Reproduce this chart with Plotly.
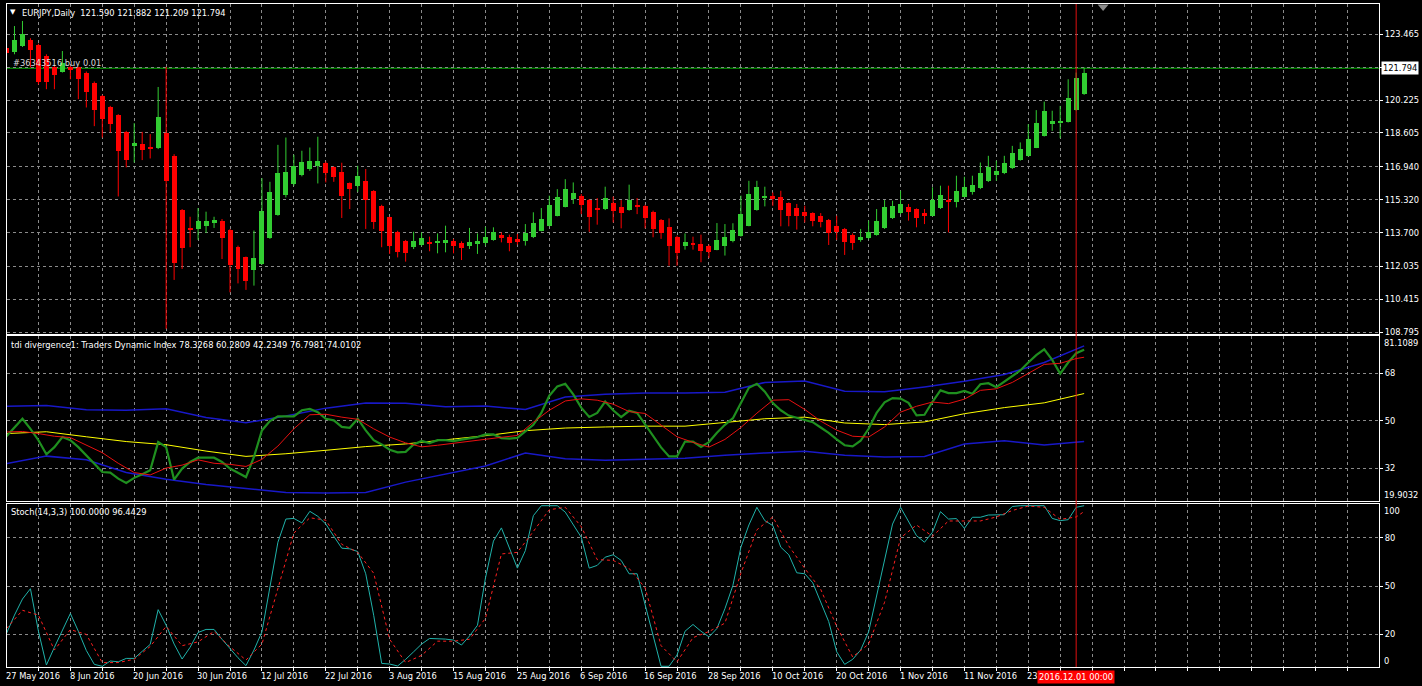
import plotly.graph_objects as go
from plotly.subplots import make_subplots

# ---------------- data ----------------
date_label_bars = [0, 8, 16, 24, 32, 40, 48, 56, 64, 72, 80, 88, 96, 104, 112, 120, 128]
date_labels = ["27 May 2016", "8 Jun 2016", "20 Jun 2016", "30 Jun 2016", "12 Jul 2016",
               "22 Jul 2016", "3 Aug 2016", "15 Aug 2016", "25 Aug 2016", "6 Sep 2016",
               "16 Sep 2016", "28 Sep 2016", "10 Oct 2016", "20 Oct 2016", "1 Nov 2016",
               "11 Nov 2016", "23"]
cursor_bar = 134
cursor_label = "2016.12.01 00:00"

open_ = [122.78, 122.61, 122.89, 123.19, 122.92, 122.40, 121.83, 121.63, 121.87, 121.83,
         121.58, 121.09, 120.43, 119.89, 119.50, 118.66, 117.94, 118.06, 117.92, 117.86,
         118.60, 117.48, 114.83, 113.91, 113.86, 114.04, 114.16, 114.25, 113.84, 113.01,
         112.48, 111.86, 112.16, 113.42, 114.57, 115.55, 116.07, 116.52, 116.81, 116.99,
         117.15, 116.91, 116.70, 116.12, 115.97, 116.22, 115.76, 115.02, 114.45, 113.74,
         113.30, 112.98, 113.11, 113.25, 113.17, 113.20, 113.30, 113.17, 113.04, 113.14,
         113.17, 113.34, 113.58, 113.50, 113.40, 113.30, 113.47, 113.79, 114.04, 114.53,
         114.97, 115.37, 115.52, 115.30, 114.89, 114.84, 115.14, 114.97, 114.81, 115.07,
         115.02, 114.73, 114.34, 113.99, 113.50, 113.06, 113.17, 113.14, 113.02, 112.86,
         113.06, 113.27, 113.55, 114.04, 114.83, 115.39, 115.48, 115.44, 115.16, 114.89,
         114.73, 114.65, 114.50, 114.34, 114.04, 113.88, 113.60, 113.35, 113.42, 113.58,
         113.91, 114.42, 114.65, 114.94, 114.86, 114.65, 114.53, 114.89, 115.29, 115.19,
         115.47, 115.68, 115.88, 116.22, 116.55, 116.63, 116.86, 117.27, 117.48, 117.89,
         118.47, 119.07, 119.12, 119.15, 119.74, 120.51]
high = [122.90, 123.87, 124.12, 123.27, 123.00, 122.48, 121.91, 122.64, 121.91, 121.86,
        121.63, 121.14, 120.48, 119.94, 119.53, 118.71, 119.09, 118.66, 118.55, 120.87,
        121.86, 117.56, 114.86, 114.48, 114.91, 114.73, 114.48, 114.37, 113.88, 113.06,
        112.52, 113.80, 116.38, 116.20, 118.02, 118.38, 117.53, 117.73, 117.89, 118.42,
        117.20, 116.96, 117.14, 116.17, 116.99, 116.83, 115.79, 115.07, 114.48, 113.79,
        113.34, 113.74, 113.71, 113.50, 113.66, 114.04, 113.39, 113.27, 113.93, 113.66,
        113.99, 113.96, 113.71, 113.60, 113.63, 114.12, 114.70, 114.91, 115.52, 115.84,
        116.33, 116.17, 115.60, 115.35, 115.40, 115.96, 115.47, 115.30, 116.06, 115.40,
        115.07, 114.78, 114.37, 114.40, 113.55, 113.66, 113.50, 113.60, 113.11, 114.17,
        114.12, 114.16, 115.52, 116.25, 116.25, 115.96, 115.68, 115.76, 115.19, 115.11,
        115.02, 114.70, 114.66, 114.37, 114.53, 113.93, 113.66, 113.88, 114.29, 114.86,
        115.30, 115.27, 115.76, 115.11, 114.89, 114.86, 115.93, 116.01, 116.01, 116.50,
        116.45, 116.50, 117.15, 117.48, 117.24, 117.48, 117.97, 118.14, 119.04, 119.73,
        120.15, 119.70, 119.94, 121.25, 121.58, 121.83]
low = [122.40, 122.48, 122.84, 121.83, 121.00, 120.76, 120.76, 121.58, 121.25, 120.27,
       119.86, 118.94, 118.38, 118.63, 115.48, 116.91, 117.15, 117.27, 117.35, 117.81,
       108.96, 111.37, 111.91, 112.98, 113.34, 113.68, 113.93, 112.40, 110.76, 111.20,
       110.88, 111.09, 112.12, 113.39, 114.53, 115.43, 116.01, 116.47, 116.74, 116.12,
       116.17, 116.20, 114.42, 114.86, 115.71, 113.88, 113.88, 112.98, 112.65, 112.48,
       112.27, 112.89, 113.03, 112.78, 112.68, 112.73, 112.68, 112.35, 112.89, 112.65,
       113.06, 113.30, 113.22, 112.78, 113.11, 113.06, 113.43, 113.76, 114.01, 114.50,
       114.94, 115.11, 114.61, 113.74, 114.09, 114.81, 114.20, 113.91, 114.78, 114.61,
       113.91, 113.47, 113.39, 112.07, 112.07, 112.86, 112.86, 112.24, 112.45, 112.83,
       112.57, 113.22, 113.50, 114.01, 114.78, 114.99, 115.02, 114.01, 114.01, 113.85,
       114.20, 114.01, 113.96, 113.09, 113.34, 112.60, 112.85, 113.25, 113.37, 113.55,
       113.88, 114.37, 114.61, 114.29, 113.96, 114.12, 114.50, 114.86, 113.71, 114.94,
       115.44, 115.57, 115.84, 116.19, 116.25, 116.58, 116.83, 117.24, 117.45, 117.86,
       118.43, 118.71, 118.35, 119.12, 119.70, 120.48]
close = [122.56, 123.17, 123.46, 122.68, 121.12, 121.12, 121.46, 122.04, 121.69, 121.28,
         120.60, 119.76, 119.27, 119.04, 117.73, 117.29, 118.12, 117.76, 117.86, 119.37,
         116.25, 112.19, 112.93, 113.84, 114.29, 114.29, 114.34, 113.42, 112.11, 111.89,
         111.30, 112.44, 114.78, 115.68, 116.61, 116.66, 116.99, 117.19, 117.24, 117.24,
         116.61, 116.42, 115.48, 115.83, 116.47, 115.30, 114.24, 113.79, 113.06, 112.73,
         112.68, 113.30, 113.42, 113.17, 113.30, 113.34, 113.02, 112.96, 113.24, 113.27,
         113.50, 113.74, 113.42, 113.17, 113.25, 113.66, 114.17, 114.37, 115.07, 115.47,
         115.84, 115.65, 115.07, 114.45, 114.79, 115.40, 114.78, 114.65, 115.30, 114.97,
         114.42, 113.88, 113.66, 113.02, 112.68, 113.22, 113.11, 112.81, 112.73, 113.35,
         113.50, 113.85, 114.62, 115.60, 115.96, 115.52, 115.39, 114.83, 114.53, 114.53,
         114.50, 114.29, 114.21, 113.66, 113.71, 113.22, 113.17, 113.50, 113.73, 114.29,
         114.94, 114.99, 115.12, 114.73, 114.40, 114.50, 115.30, 115.57, 115.19, 115.76,
         115.96, 116.06, 116.63, 116.91, 116.75, 117.12, 117.61, 117.84, 118.32, 119.10,
         119.70, 119.20, 119.20, 120.35, 121.33, 121.55]

price_ticks = [108.795, 110.415, 112.035, 113.700, 115.320, 116.940, 118.605, 120.225, 121.845, 123.465]
price_ticktext = ["108.795", "110.415", "112.035", "113.700", "115.320", "116.940",
                  "118.605", "120.225", "", "123.465"]
bid_price = 121.794

# Traders Dynamic Index
tdi_green = [44.2, 47.7, 50.8, 47.0, 42.7, 37.4, 40.1, 43.9, 42.7, 40.1,
             37.0, 33.9, 30.7, 30.5, 28.2, 26.6, 28.5, 29.9, 31.4, 42.0,
             40.1, 27.8, 32.0, 34.5, 36.1, 36.1, 36.1, 34.5, 32.0, 30.4,
             28.8, 36.4, 46.4, 49.9, 51.7, 51.7, 51.7, 54.0, 54.5, 53.3,
             50.8, 50.2, 47.7, 47.4, 50.8, 46.4, 42.7, 41.1, 39.1, 38.1,
             38.3, 41.1, 42.4, 41.6, 42.7, 42.7, 42.4, 42.9, 43.3, 43.9,
             44.9, 44.9, 43.5, 43.3, 43.6, 46.0, 48.5, 53.0, 59.5, 63.0,
             64.0, 60.0, 55.0, 51.5, 53.0, 57.3, 54.0, 51.4, 53.8, 53.0,
             48.5, 44.5, 40.0, 36.6, 36.6, 42.2, 42.2, 40.2, 42.0, 45.5,
             48.5, 51.0, 57.0, 62.5, 64.0, 61.0, 56.7, 54.0, 52.0, 51.2,
             50.5, 49.5, 47.5, 45.5, 43.0, 40.8, 40.4, 42.5, 47.0, 53.0,
             57.0, 58.6, 58.4, 56.8, 52.1, 52.3, 57.2, 61.5, 60.5, 60.5,
             61.3, 60.2, 63.8, 64.2, 62.7, 64.8, 67.0, 69.0, 72.0, 74.8,
             77.0, 73.0, 67.8, 72.0, 75.5, 76.8]
tdi_red_bars = list(range(0, 136, 2)) + [135]
tdi_red = [45.8, 46.0, 45.2, 44.2, 43.7, 41.0, 38.0, 34.0, 30.5, 29.6,
           32.2, 33.3, 35.3, 34.0, 33.6, 32.8, 35.5, 40.5, 47.0, 52.3,
           52.5, 51.4, 50.6, 47.0, 43.9, 41.7, 40.2, 40.8, 41.6, 42.4,
           43.2, 43.8, 44.5, 49.5, 54.0, 57.5, 58.3, 57.8, 56.3, 53.5,
           52.8, 48.5, 44.0, 41.9, 40.1, 43.0, 47.5, 52.9, 57.8, 58.0,
           54.3, 49.9, 46.5, 44.2, 43.9, 47.7, 53.3, 55.5, 57.1, 56.5,
           58.2, 61.5, 62.1, 64.5, 67.8, 71.3, 71.7, 73.5, 74.0]
tdi_smooth_bars = list(range(0, 136, 5))
tdi_yellow = [45.2, 45.9, 44.0, 42.2, 41.0, 38.6, 36.6, 37.6, 38.9, 40.3, 41.3, 42.9, 44.4, 46.3,
              47.3, 47.7, 48.0, 48.0, 49.3, 50.8, 51.4, 49.2, 48.6, 49.6, 52.7, 55.0, 56.8, 60.3]
tdi_upper = [55.5, 55.8, 54.2, 54.0, 54.6, 51.3, 49.3, 51.8, 54.8, 56.7, 56.6, 55.3, 55.6, 54.3,
             59.0, 60.0, 60.5, 60.5, 60.8, 64.5, 65.0, 61.2, 61.0, 62.8, 64.9, 67.5, 72.0, 78.3]
tdi_lower = [33.9, 36.7, 35.3, 30.5, 28.0, 26.0, 24.5, 23.0, 22.8, 23.0, 26.9, 30.0, 33.0, 37.9,
             35.7, 35.1, 35.4, 35.9, 37.0, 37.9, 38.5, 37.0, 36.4, 36.6, 41.3, 42.5, 40.9, 42.2]

# Stochastic (14,3,3)
stoch_main = [20.6, 32, 42, 48.4, 22, 1.0, 12, 23, 33.0, 22,
              10, 1.4, 0.2, 3.5, 3.0, 5.1, 5.1, 9.5, 13.8, 35.4,
              25.7, 14, 4.7, 12, 21.2, 23.1, 23.1, 17, 11.3, 5.5,
              0.6, 10.3, 21.6, 50.5, 77.3, 91.7, 92.1, 89.3, 96.5, 93.4,
              88.6, 81, 73.6, 73.2, 71.5, 57.7, 31.9, 2.0, 1.6, 0.4,
              4.5, 9.2, 14, 17.5, 17.5, 17.1, 16.5, 13.4, 19.0, 25.7,
              55, 78, 86.2, 74, 61.2, 72.1, 93.8, 100, 100, 100,
              96, 88, 80.4, 61.2, 62.9, 68.0, 69.5, 66.0, 57.7, 57.7,
              38.1, 18, 0.2, 0.2, 7.2, 22, 26.2, 22, 18.5, 23.7,
              36.0, 50.5, 74.2, 88, 99.0, 90.7, 87.6, 74.2, 69.5, 58.3,
              57.7, 52.1, 40.2, 28, 9.2, 1.4, 4.5, 10.3, 21.6, 44.3,
              64.9, 88.6, 99.0, 90.1, 81.4, 77.3, 83.5, 96.3, 91.7, 92,
              85.9, 92.8, 92.8, 94.2, 94.2, 94.4, 99.5, 100, 100, 100,
              100, 92.1, 90.7, 91.3, 99.0, 100]
stoch_sig_bars = list(range(0, 136, 2)) + [135]
stoch_signal = [23.7, 35, 32, 10.3, 23.0, 20, 2.5, 2.5, 4.6, 12.5,
                25, 13, 15.4, 21.8, 12.3, 4.1, 14, 48, 83, 92.5,
                91, 76, 71, 58, 17, 2.5, 7, 15.8, 15.8, 17,
                30, 70, 71, 84, 97.5, 99, 87, 66.5, 66, 61,
                49, 13, 3, 18, 21.8, 27, 58, 85, 93, 75,
                61, 48, 25, 6, 14, 40, 80, 88, 81, 90.5,
                90.7, 90.5, 93, 97, 99.8, 99, 91.5, 93, 96.4]

# ---------------- figure ----------------
W, H = 1422, 686
ML, MR, MT, MB = 7, 40, 3, 19
PW, PH = W - ML - MR, H - MT - MB
FONT = "DejaVu Sans"
FS = 8.3
GRID = "#8a8a8a"
UP, DOWN = "#32CD32", "#FF0000"
X0 = 0.0625          # axis value at the plot's left edge
PX_PER_BAR = 8.0


def px_x(px):
    return (px - ML) / PW


def px_y(py):
    return (H - MB - py) / PH


def bar_paper(b):
    return (b - X0) * PX_PER_BAR / PW


fig = make_subplots(rows=3, cols=1, shared_xaxes=True, vertical_spacing=0.004)

bars = list(range(len(open_)))
xr = [X0, X0 + PW / PX_PER_BAR]

# candles
for col, cond in ((UP, True), (DOWN, False)):
    wx, wy = [], []
    bx, bb, bh = [], [], []
    for i in bars:
        if (close[i] >= open_[i]) == cond:
            wx += [i, i, None]
            wy += [low[i], high[i], None]
            bx.append(i)
            bb.append(min(open_[i], close[i]))
            bh.append(max(abs(close[i] - open_[i]), 0.05))
    fig.add_trace(go.Scatter(x=wx, y=wy, mode="lines", line=dict(color=col, width=1),
                             hoverinfo="skip", showlegend=False), row=1, col=1)
    fig.add_trace(go.Bar(x=bx, y=bh, base=bb, width=0.625, marker=dict(color=col, line=dict(width=0)),
                         hoverinfo="skip", showlegend=False), row=1, col=1)

# TDI
fig.add_trace(go.Scatter(x=tdi_smooth_bars, y=tdi_upper, mode="lines",
                         line=dict(color="#1818C8", width=1.5), showlegend=False), row=2, col=1)
fig.add_trace(go.Scatter(x=tdi_smooth_bars, y=tdi_yellow, mode="lines",
                         line=dict(color="#FFFF00", width=1), showlegend=False), row=2, col=1)
fig.add_trace(go.Scatter(x=tdi_smooth_bars, y=tdi_lower, mode="lines",
                         line=dict(color="#1818C8", width=1.5), showlegend=False), row=2, col=1)
fig.add_trace(go.Scatter(x=bars, y=tdi_green, mode="lines",
                         line=dict(color="#1F8F1F", width=2.2), showlegend=False), row=2, col=1)
fig.add_trace(go.Scatter(x=tdi_red_bars, y=tdi_red, mode="lines",
                         line=dict(color="#E81010", width=1), showlegend=False), row=2, col=1)

# Stochastic
fig.add_trace(go.Scatter(x=bars, y=stoch_main, mode="lines",
                         line=dict(color="#20B2AA", width=1), showlegend=False), row=3, col=1)
fig.add_trace(go.Scatter(x=stoch_sig_bars, y=stoch_signal, mode="lines",
                         line=dict(color="#FF2020", width=1, dash="3px,3px"), showlegend=False), row=3, col=1)

axis_common = dict(showline=True, mirror=True, linecolor="white", linewidth=1,
                   zeroline=False, showgrid=True, gridcolor=GRID, griddash="3px,3px", gridwidth=1)

for r in (1, 2, 3):
    fig.update_xaxes(range=xr, tick0=0, dtick=4, showticklabels=False, row=r, col=1, **axis_common)
fig.update_xaxes(ticks="outside", ticklen=3, tickcolor="white", row=3, col=1)

yfont = dict(family=FONT, size=FS, color="white")
fig.update_yaxes(side="right", range=[108.732, 124.955], tickvals=price_ticks, ticktext=price_ticktext,
                 ticks="outside", ticklen=3, tickcolor="white", tickfont=yfont, row=1, col=1, **axis_common)
fig.update_yaxes(side="right", range=[19.87, 81.82], tickvals=[32, 50, 68], ticktext=["32", "50", "68"],
                 ticks="outside", ticklen=3, tickcolor="white", tickfont=yfont, row=2, col=1, **axis_common)
fig.update_yaxes(side="right", range=[-0.24, 101.21], tickvals=[20, 50, 80], ticktext=["20", "50", "80"],
                 ticks="outside", ticklen=3, tickcolor="white", tickfont=yfont, row=3, col=1, **axis_common)

fig.update_layout(
    yaxis=dict(domain=[px_y(333), 1.0]),
    yaxis2=dict(domain=[px_y(500.5), px_y(336)]),
    yaxis3=dict(domain=[0.0, px_y(503.5)]),
)

annotations = []
txt = dict(family=FONT, size=FS, color="white")
annotations.append(dict(text="▼", x=px_x(13), y=px_y(11), xref="paper", yref="paper",
                        xanchor="center", yanchor="middle", showarrow=False,
                        font=dict(family=FONT, size=7, color="white")))
annotations.append(dict(text="EURJPY,Daily\u00a0\u00a0121.590 121.882 121.209 121.794",
                        x=px_x(20), y=px_y(12), xref="paper", yref="paper",
                        xanchor="left", yanchor="middle", showarrow=False, font=txt))
annotations.append(dict(text="#36343516 buy 0.01", x=px_x(11), y=px_y(62), xref="paper", yref="paper",
                        xanchor="left", yanchor="middle", showarrow=False,
                        font=dict(family=FONT, size=FS, color="#d8d8d8")))
annotations.append(dict(text="tdi divergence1: Traders Dynamic Index 78.3268 60.2809 42.2349 76.7981 74.0102",
                        x=px_x(9), y=px_y(345), xref="paper", yref="paper",
                        xanchor="left", yanchor="middle", showarrow=False, font=txt))
annotations.append(dict(text="Stoch(14,3,3) 100.0000 96.4429", x=px_x(9), y=px_y(512),
                        xref="paper", yref="paper", xanchor="left", yanchor="middle",
                        showarrow=False, font=txt))
# pane extreme labels
for t, py in (("81.1089", 343), ("19.9032", 495), ("100", 510.5), ("0", 661)):
    annotations.append(dict(text=t, x=px_x(1385), y=px_y(py), xref="paper", yref="paper",
                            xanchor="left", yanchor="middle", showarrow=False, font=txt))
# bid price label
annotations.append(dict(text=f"{bid_price:.3f}", x=px_x(1384), y=bid_price, xref="paper", yref="y",
                        xanchor="left", yanchor="middle", showarrow=False, bgcolor="white",
                        borderpad=1, font=dict(family=FONT, size=FS, color="black")))
# date labels (left-aligned at their bars)
for b, t in zip(date_label_bars, date_labels):
    annotations.append(dict(text=t, x=bar_paper(b - 0.35), y=px_y(676), xref="paper", yref="paper",
                            xanchor="left", yanchor="middle", showarrow=False, font=txt))
annotations.append(dict(text=cursor_label, x=bar_paper(cursor_bar), y=px_y(677), xref="paper", yref="paper",
                        xanchor="center", yanchor="middle", showarrow=False, bgcolor="#FF0000",
                        borderpad=1, font=txt))

shapes = [
    dict(type="line", xref="paper", yref="y", x0=0, x1=1, y0=bid_price, y1=bid_price,
         line=dict(color="#00B400", width=1), layer="between"),
    dict(type="line", xref="x", yref="paper", x0=cursor_bar, x1=cursor_bar, y0=0, y1=1,
         line=dict(color="#E01010", width=1), layer="above"),
    dict(type="path", xref="paper", yref="paper",
         path=f"M {px_x(1100)},{px_y(3.5)} L {px_x(1111)},{px_y(3.5)} L {px_x(1105.5)},{px_y(10)} Z",
         fillcolor="#8c8c8c", line=dict(width=0), layer="above"),
]

fig.update_layout(
    width=W, height=H, margin=dict(l=ML, r=MR, t=MT, b=MB),
    paper_bgcolor="black", plot_bgcolor="black",
    font=dict(family=FONT, size=FS, color="white"),
    barmode="overlay", bargap=0, showlegend=False, hovermode=False,
    annotations=annotations, shapes=shapes,
)

fig.write_html("out.html")
